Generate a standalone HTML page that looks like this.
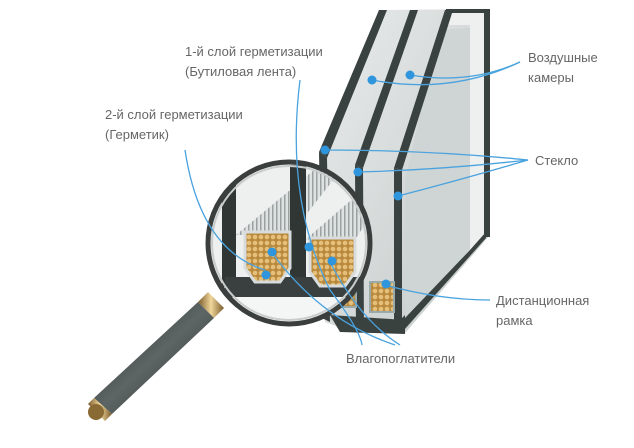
<!DOCTYPE html>
<html><head><meta charset="utf-8"><style>
html,body{margin:0;padding:0;background:#fff;width:634px;height:448px;overflow:hidden}
svg{display:block}
text{font-family:"Liberation Sans",sans-serif;font-size:13px;fill:#666}
</style></head><body>
<svg width="634" height="448" viewBox="0 0 634 448">
<defs>
<linearGradient id="gl" x1="0" y1="0" x2="1" y2="1"><stop offset="0" stop-color="#e8ebeb"/><stop offset="1" stop-color="#c3c9c8"/></linearGradient>
<linearGradient id="br" x1="0" y1="0" x2="1" y2="0"><stop offset="0" stop-color="#7a5a2a"/><stop offset=".5" stop-color="#f0d79a"/><stop offset="1" stop-color="#7a5a2a"/></linearGradient>
<linearGradient id="hd" x1="0" y1="0" x2="1" y2="1"><stop offset="0" stop-color="#1f2524"/><stop offset=".5" stop-color="#5d6664"/><stop offset="1" stop-color="#1f2524"/></linearGradient>
<pattern id="bead" width="6" height="6" patternUnits="userSpaceOnUse"><rect width="6" height="6" fill="#b98a3e"/><circle cx="3" cy="3" r="2.3" fill="#e6c07a"/></pattern>
<pattern id="grill" width="4" height="4" patternUnits="userSpaceOnUse"><rect width="4" height="4" fill="#dfe2e2"/><rect width="1.5" height="4" fill="#9aa2a1"/></pattern>
<clipPath id="lens"><circle cx="289" cy="243" r="79"/></clipPath>
</defs>
<!-- window -->
<polygon points="382,10 490,9 490,235 405,333 355,333 325,322 322,157" fill="url(#gl)"/>
<polygon points="450,12 486,11 486,232 470,250 470,25 446,25" fill="#eef0f0"/>
<polygon points="470,250 486,232 486,238 404,330 398,322" fill="#3a4240"/>
<rect x="484" y="9" width="6" height="228" fill="#3a4240"/>
<polygon points="446,9 490,9 490,13 446,13" fill="#3a4240"/>
<polygon points="440,30 470,28 470,250 405,318 405,180" fill="#cfd4d4"/>
<!-- pane bars -->
<polygon points="319,152 379,10 387,10 327,158" fill="#394240"/>
<polygon points="319,152 327,158 330,322 322,318" fill="#394240"/>
<polygon points="355,165 410,10 418,10 363,168" fill="#394240"/>
<polygon points="355,165 363,168 364,332 356,330" fill="#394240"/>
<polygon points="394,168 445,10 453,10 402,170" fill="#394240"/>
<polygon points="394,168 402,170 402,322 394,322" fill="#394240"/>
<polygon points="330,315 405,320 405,334 340,332" fill="#3a4240"/>
<rect x="370" y="282" width="24" height="30" fill="url(#bead)" stroke="#9aa" stroke-width="2"/>
<rect x="338" y="285" width="18" height="22" fill="url(#bead)" stroke="#9aa" stroke-width="2"/>
<!-- lens content -->
<g clip-path="url(#lens)">
<rect x="200" y="150" width="190" height="190" fill="#eef0f0"/>
<polygon points="236,235 320,165 345,165 290,235" fill="url(#grill)"/>
<polygon points="305,240 380,175 380,200 355,240" fill="url(#grill)"/>
<rect x="222" y="172" width="14" height="115" fill="#2f3634"/>
<rect x="290" y="165" width="16" height="132" fill="#2f3634"/>
<rect x="225" y="277" width="165" height="20" fill="#3a403f"/>
<polygon points="245,232 290,232 290,268 280,282 255,282 245,268" fill="url(#bead)" stroke="#d9dcdc" stroke-width="3"/>
<polygon points="310,238 355,238 355,272 345,286 320,286 310,272" fill="url(#bead)" stroke="#d9dcdc" stroke-width="3"/>
<rect x="200" y="297" width="190" height="40" fill="#f4f5f5"/>
</g>
<circle cx="289" cy="243" r="81" fill="none" stroke="#3a3f3e" stroke-width="5"/>
<circle cx="289" cy="243" r="77" fill="none" stroke="#c9cccc" stroke-width="2"/>
<!-- handle -->
<polygon points="208,292 224,308 214,318 198,302" fill="url(#br)"/>
<polygon points="198,302 214,318 112,414 94,398" fill="url(#hd)"/>
<polygon points="94,398 112,414 105,421 88,404" fill="url(#br)"/>
<circle cx="96" cy="412" r="8" fill="#8a6a34"/>
<!-- leader lines -->
<g fill="none" stroke="#4aa3df" stroke-width="1.3">
<path d="M372,80 Q450,95 520,62"/><path d="M410,75 Q470,85 520,62"/>
<path d="M325,150 Q430,150 528,160"/><path d="M358,172 Q440,170 528,160"/><path d="M398,196 Q460,180 528,160"/>
<path d="M300,80 Q285,200 330,290 Q360,330 362,345"/>
<path d="M185,150 Q200,250 265,270"/>
<path d="M270,250 Q320,320 395,345"/><path d="M330,262 Q360,320 400,345"/>
<path d="M385,285 Q440,300 490,300"/>
</g>
<g fill="#2f95dc">
<circle cx="372" cy="80" r="4.5"/><circle cx="410" cy="75" r="4.5"/>
<circle cx="325" cy="150" r="4.5"/><circle cx="358" cy="172" r="4.5"/><circle cx="398" cy="196" r="4.5"/>
<circle cx="309" cy="247" r="4.5"/><circle cx="266" cy="275" r="4.5"/>
<circle cx="272" cy="252" r="4.5"/><circle cx="332" cy="261" r="4.5"/><circle cx="386" cy="284" r="4.5"/>
</g>
<text x="185" y="56">1-й слой герметизации</text>
<text x="185" y="76">(Бутиловая лента)</text>
<text x="105" y="119">2-й слой герметизации</text>
<text x="105" y="139">(Герметик)</text>
<text x="528" y="62">Воздушные</text>
<text x="528" y="82">камеры</text>
<text x="535" y="165">Стекло</text>
<text x="496" y="305">Дистанционная</text>
<text x="496" y="325">рамка</text>
<text x="346" y="363">Влагопоглатители</text>
</svg>
</body></html>
